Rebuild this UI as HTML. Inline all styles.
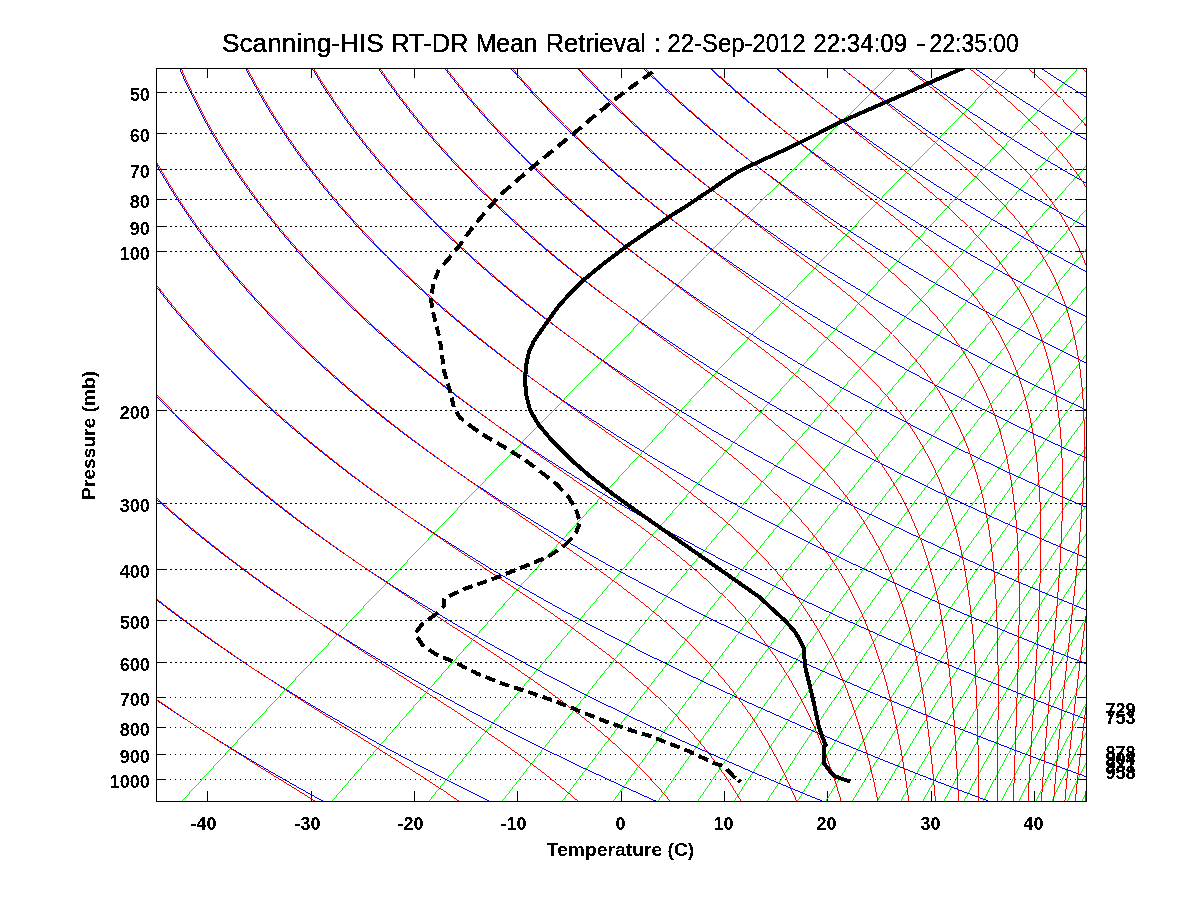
<!DOCTYPE html>
<html><head><meta charset="utf-8"><title>Skew-T</title>
<style>
html,body{margin:0;padding:0;background:#fff;}
body{width:1200px;height:900px;overflow:hidden;font-family:"Liberation Sans",sans-serif;}
svg{display:block}
text{font-family:"Liberation Sans",sans-serif;fill:#000}
.b{font-weight:bold;font-size:18px}
.thin{fill:none;stroke-width:1;shape-rendering:crispEdges}
.f{stroke:none;shape-rendering:crispEdges}
</style></head><body>
<svg width="1200" height="900" viewBox="0 0 1200 900">
<rect x="0" y="0" width="1200" height="900" fill="#fff"/>
<defs><clipPath id="c"><rect x="157" y="69" width="929" height="732"/></clipPath><filter id="t" x="0" y="0" width="1200" height="900" filterUnits="userSpaceOnUse" color-interpolation-filters="sRGB"><feComponentTransfer><feFuncA type="discrete" tableValues="0 1"/></feComponentTransfer></filter></defs>
<g class="thin" stroke="#000">
<rect x="156.5" y="68.5" width="930" height="733"/>
<path d="M207.5 801 v-10"/><path d="M207.5 69 v9"/>
<path d="M311.5 801 v-10"/><path d="M311.5 69 v9"/>
<path d="M414.5 801 v-10"/><path d="M414.5 69 v9"/>
<path d="M517.5 801 v-10"/><path d="M517.5 69 v9"/>
<path d="M621.5 801 v-10"/><path d="M621.5 69 v9"/>
<path d="M724.5 801 v-10"/><path d="M724.5 69 v9"/>
<path d="M827.5 801 v-10"/><path d="M827.5 69 v9"/>
<path d="M931.5 801 v-10"/><path d="M931.5 69 v9"/>
<path d="M1034.5 801 v-10"/><path d="M1034.5 69 v9"/>
<path d="M157 92.5 h9"/><path d="M1086 92.5 h-9"/>
<path d="M157 133.5 h9"/><path d="M1086 133.5 h-9"/>
<path d="M157 169.5 h9"/><path d="M1086 169.5 h-9"/>
<path d="M157 199.5 h9"/><path d="M1086 199.5 h-9"/>
<path d="M157 226.5 h9"/><path d="M1086 226.5 h-9"/>
<path d="M157 251.5 h9"/><path d="M1086 251.5 h-9"/>
<path d="M157 410.5 h9"/><path d="M1086 410.5 h-9"/>
<path d="M157 503.5 h9"/><path d="M1086 503.5 h-9"/>
<path d="M157 569.5 h9"/><path d="M1086 569.5 h-9"/>
<path d="M157 620.5 h9"/><path d="M1086 620.5 h-9"/>
<path d="M157 662.5 h9"/><path d="M1086 662.5 h-9"/>
<path d="M157 697.5 h9"/><path d="M1086 697.5 h-9"/>
<path d="M157 727.5 h9"/><path d="M1086 727.5 h-9"/>
<path d="M157 754.5 h9"/><path d="M1086 754.5 h-9"/>
<path d="M157 779.5 h9"/><path d="M1086 779.5 h-9"/>
</g>
<g clip-path="url(#c)">
<g class="f" fill="#0f0">
<path d="M902 62 802.2 160 705.7 256 705.7 257 802.2 161 902 63ZM705.2 256.5 633.5 328.5 564.5 398.5 496.1 468.5 428.5 538.5 363.5 606.5 299.2 674.5 237.5 740.5 176.5 806.5 177.5 806.5 238.5 740.5 300.2 674.5 364.5 606.5 429.5 538.5 497.1 468.5 565.5 398.5 634.5 328.5 706.2 256.5Z"/>
<path d="M1012.6 62.5 963.8 112.5 917.2 160.5 869 210.5 823.1 258.5 777.6 306.5 732.4 354.5 687.7 402.5 645.1 448.5 602.9 494.5 561 540.5 519.6 586.5 480.3 630.5 441.4 674.5 402.9 718.5 364.8 762.5 327 806.5 328 806.5 365.8 762.5 403.9 718.5 442.4 674.5 481.3 630.5 520.6 586.5 562 540.5 603.9 494.5 646.1 448.5 688.7 402.5 733.4 354.5 778.6 306.5 824.1 258.5 870 210.5 918.2 160.5 964.8 112.5 1013.6 62.5Z"/>
<path d="M1083.1 62.5 1035.7 112.5 990.5 160.5 943.9 210.5 899.5 258.5 855.5 306.5 812 354.5 768.8 402.5 727.9 448.5 687.3 494.5 647.2 540.5 607.5 586.5 569.9 630.5 532.8 674.5 496.1 718.5 459.9 762.5 424.1 806.5 425.1 806.5 460.9 762.5 497.1 718.5 533.8 674.5 570.9 630.5 608.5 586.5 648.2 540.5 688.3 494.5 728.9 448.5 769.8 402.5 813 354.5 856.5 306.5 900.5 258.5 944.9 210.5 991.5 160.5 1036.7 112.5 1084.1 62.5Z"/>
<path d="M1102.6 98.5 1058.5 146.5 1016.5 192.5 973.2 240.5 932 286.5 891.2 332.5 852.6 376.5 812.7 422.5 774.9 466.5 737.5 510.5 700.5 554.5 664 598.5 629.6 640.5 595.6 682.5 562 724.5 528.8 766.5 497.7 806.5 498.7 806.5 529.8 766.5 563 724.5 596.6 682.5 630.6 640.5 665 598.5 701.5 554.5 738.5 510.5 775.9 466.5 813.7 422.5 853.6 376.5 892.2 332.5 933 286.5 974.2 240.5 1017.5 192.5 1059.5 146.5 1103.6 98.5Z"/>
<path d="M1101.2 148.5 1061.9 192.5 1023 236.5 984.5 280.5 948.1 322.5 912 364.5 876.4 406.5 841.1 448.5 806.2 490.5 773.4 530.5 740.9 570.5 708.9 610.5 677.2 650.5 645.9 690.5 616.7 728.5 586.2 768.5 557.8 806.5 558.8 806.5 587.2 768.5 617.7 728.5 646.9 690.5 678.2 650.5 709.9 610.5 741.9 570.5 774.4 530.5 807.2 490.5 842.1 448.5 877.4 406.5 913 364.5 949.1 322.5 985.5 280.5 1024 236.5 1062.9 192.5 1102.2 148.5Z"/>
<path d="M1102.1 190.5 1065.6 232.5 1031.3 272.5 997.3 312.5 963.6 352.5 930.3 392.5 899 430.5 866.4 470.5 835.8 508.5 805.5 546.5 775.6 584.5 746.1 622.5 717 660.5 688.3 698.5 661.5 734.5 635 770.5 608.9 806.5 609.9 806.5 636 770.5 662.5 734.5 689.3 698.5 718 660.5 747.1 622.5 776.6 584.5 806.5 546.5 836.8 508.5 867.4 470.5 900 430.5 931.3 392.5 964.6 352.5 998.3 312.5 1032.3 272.5 1066.6 232.5 1103.1 190.5Z"/>
<path d="M1101.5 230.5 1069.4 268.5 1037.6 306.5 1006.2 344.5 975.1 382.5 944.3 420.5 915.5 456.5 887 492.5 858.9 528.5 831.1 564.5 803.6 600.5 776.5 636.5 751.3 670.5 726.4 704.5 701.8 738.5 677.6 772.5 653.7 806.5 654.7 806.5 678.6 772.5 702.8 738.5 727.4 704.5 752.3 670.5 777.5 636.5 804.6 600.5 832.1 564.5 859.9 528.5 888 492.5 916.5 456.5 945.3 420.5 976.1 382.5 1007.2 344.5 1038.6 306.5 1070.4 268.5 1102.5 230.5Z"/>
<path d="M1101.9 266.5 1043 338.5 986.9 408.5 933.6 476.5 907.5 510.5 881.6 544.5 856.1 578.5 830.8 612.5 806 646.5 782.9 678.5 760.1 710.5 737.6 742.5 715.5 774.5 693.7 806.5 694.7 806.5 716.5 774.5 738.6 742.5 761.1 710.5 783.9 678.5 807 646.5 831.8 612.5 857.1 578.5 882.6 544.5 908.5 510.5 934.6 476.5 987.9 408.5 1044 338.5 1102.9 266.5Z"/>
<path d="M1102.2 300.5 1049.6 366.5 998 432.5 949.2 496.5 901.5 560.5 856.5 622.5 833.7 654.5 812.6 684.5 790.4 716.5 769.9 746.5 749.8 776.5 729.9 806.5 730.9 806.5 750.8 776.5 770.9 746.5 791.4 716.5 813.6 684.5 834.7 654.5 857.5 622.5 902.5 560.5 950.2 496.5 999 432.5 1050.6 366.5 1103.2 300.5Z"/>
<path d="M1101.2 334.5 1053 396.5 1007.4 456.5 962.8 516.5 919.2 576.5 878.2 634.5 838.2 692.5 799.4 750.5 763 806.5 764 806.5 800.4 750.5 839.2 692.5 879.2 634.5 920.2 576.5 963.8 516.5 1008.4 456.5 1054 396.5 1102.2 334.5Z"/>
<path d="M1102.2 364.5 1058.3 422.5 1015.3 480.5 974.8 536.5 935.2 592.5 898 646.5 861.7 700.5 826.5 754.5 793.6 806.5 794.6 806.5 827.5 754.5 862.7 700.5 899 646.5 936.2 592.5 975.8 536.5 1016.3 480.5 1059.3 422.5 1103.2 364.5Z"/>
<path d="M1102.4 394.5 1062.6 448.5 1023.6 502.5 986.9 554.5 951 606.5 916.1 658.5 883.4 708.5 851.6 758.5 822 806.5 823 806.5 852.6 758.5 884.4 708.5 917.1 658.5 952 606.5 987.9 554.5 1024.6 502.5 1063.6 448.5 1103.4 394.5Z"/>
<path d="M1102 424.5 1066.1 474.5 1030.9 524.5 997.9 572.5 965.6 620.5 934.2 668.5 904.9 714.5 876.3 760.5 848.6 806.5 849.6 806.5 877.3 760.5 905.9 714.5 935.2 668.5 966.6 620.5 998.9 572.5 1031.9 524.5 1067.1 474.5 1103 424.5Z"/>
<path d="M1101.1 454.5 1068.9 500.5 1037.4 546.5 1008 590.5 979.2 634.5 951.1 678.5 924.9 720.5 898.3 764.5 873.5 806.5 874.5 806.5 899.3 764.5 925.9 720.5 952.1 678.5 980.2 634.5 1009 590.5 1038.4 546.5 1069.9 500.5 1102.1 454.5Z"/>
<path d="M1101.3 482.5 1072.7 524.5 1044.7 566.5 1017.3 608.5 991.8 648.5 966.9 688.5 942.6 728.5 918.9 768.5 897.1 806.5 898.1 806.5 919.9 768.5 943.6 728.5 967.9 688.5 992.8 648.5 1018.3 608.5 1045.7 566.5 1073.7 524.5 1102.3 482.5Z"/>
<path d="M1101.2 510.5 1076 548.5 1051.3 586.5 1027.2 624.5 1004.8 660.5 981.7 698.5 960.4 734.5 939.6 770.5 919.3 806.5 920.3 806.5 940.6 770.5 961.4 734.5 982.7 698.5 1005.8 660.5 1028.2 624.5 1052.3 586.5 1077 548.5 1102.2 510.5Z"/>
<path d="M1102.2 536.5 1079 572.5 1057.5 606.5 1036.5 640.5 1015.9 674.5 995.8 708.5 977.3 740.5 958.1 774.5 940.5 806.5 941.5 806.5 959.1 774.5 978.3 740.5 996.8 708.5 1016.9 674.5 1037.5 640.5 1058.5 606.5 1080 572.5 1103.2 536.5Z"/>
<path d="M1101.7 564.5 1081.7 596.5 1063.3 626.5 1045.3 656.5 1027.6 686.5 1010.3 716.5 993.3 746.5 976.8 776.5 960.6 806.5 961.6 806.5 977.8 776.5 994.3 746.5 1011.3 716.5 1028.6 686.5 1046.3 656.5 1064.3 626.5 1082.7 596.5 1102.7 564.5Z"/>
<path d="M1101.3 592.5 1084.3 620.5 1068.8 646.5 1052.4 674.5 1037.5 700.5 1021.8 728.5 1007.5 754.5 993.5 780.5 979.8 806.5 980.8 806.5 994.5 780.5 1008.5 754.5 1022.8 728.5 1038.5 700.5 1053.4 674.5 1069.8 646.5 1085.3 620.5 1102.3 592.5Z"/>
<path d="M1102 618.5 1074 666.5 1047 714.5 1022.1 760.5 998.1 806.5 999.1 806.5 1023.1 760.5 1048 714.5 1075 666.5 1103 618.5Z"/>
<path d="M1101.6 646.5 1079.1 686.5 1057.2 726.5 1036.1 766.5 1015.7 806.5 1016.7 806.5 1037.1 766.5 1058.2 726.5 1080.1 686.5 1102.6 646.5Z"/>
<path d="M1101.4 674.5 1082.9 708.5 1065.9 740.5 1048.5 774.5 1032.5 806.5 1033.5 806.5 1049.5 774.5 1066.9 740.5 1083.9 708.5 1102.4 674.5Z"/>
<path d="M1101.3 702.5 1087.7 728.5 1074.4 754.5 1061.3 780.5 1048.7 806.5 1049.7 806.5 1062.3 780.5 1075.4 754.5 1088.7 728.5 1102.3 702.5Z"/>
<path d="M1101.5 730.5 1082.5 768.5 1064.2 806.5 1065.2 806.5 1083.5 768.5 1102.5 730.5Z"/>
<path d="M1101 760.5 1079.1 806.5 1080.1 806.5 1102 760.5Z"/>
<path d="M1101.8 788.5 1093.5 806.5 1094.5 806.5 1102.8 788.5Z"/>
</g>
<g class="f" fill="#00f">
<path d="M140 688 163.1 704 184.2 718 209 734 231.6 748 258.2 764 282.4 778 307.2 792 332.9 806 332.9 807 307.2 793 282.4 779 258.2 765 231.6 749 209 735 184.2 719 163.1 705 140 689Z"/>
<path d="M139.5 586 157.3 600 175.7 614 194.8 628 214.6 642 235.1 656 256.2 670 278.1 684 300.6 698 323.9 712 348 726 372.8 740 394.7 752 421 766 448 780 475.9 794 500.5 806 500.5 807 475.9 795 448 781 421 767 394.7 753 372.8 741 348 727 323.9 713 300.6 699 278.1 685 256.2 671 235.1 657 214.6 643 194.8 629 175.7 615 157.3 601 139.5 587Z"/>
<path d="M140.2 484 153.4 496 164.7 506 188.2 526 202.9 538 215.6 548 241.8 568 258.2 580 272.2 590 301.4 610 331.9 630 363.9 650 397.4 670 432.5 690 469.1 710 507.3 730 547.2 750 584.5 768 627.7 788 668 806 668 807 627.7 789 584.5 769 547.2 751 507.3 731 469.1 711 432.5 691 397.4 671 363.9 651 331.9 631 301.4 611 272.2 591 258.2 581 241.8 569 215.6 549 202.9 539 188.2 527 164.7 507 153.4 497 140.2 485Z"/>
<path d="M139.7 378.5 156.4 396.5 173.9 414.5 174.9 414.5 157.4 396.5 140.7 378.5ZM174.4 414 188.8 428 201.5 440 216.9 454 230.6 466 247.2 480 261.9 492 279.6 506 295.3 518 314.3 532 331 544 348.3 556 366.1 568 387.4 582 406.3 594 425.8 606 445.7 618 466.2 630 487.3 642 508.9 654 531.1 666 553.9 678 577.3 690 601.3 702 625.9 714 651.1 726 676.9 738 725.9 760 753.5 772 781.9 784 835.5 806 835.5 807 781.9 785 753.5 773 725.9 761 676.9 739 651.1 727 625.9 715 601.3 703 577.3 691 553.9 679 531.1 667 508.9 655 487.3 643 466.2 631 445.7 619 425.8 607 406.3 595 387.4 583 366.1 569 348.3 557 331 545 314.3 533 295.3 519 279.6 507 261.9 493 247.2 481 230.6 467 216.9 455 201.5 441 188.8 429 174.4 415Z"/>
<path d="M140.9 266.5 151.1 280.5 160.3 292.5 171.5 306.5 181.5 318.5 193.7 332.5 204.5 344.5 217.7 358.5 229.5 370.5 230.5 370.5 218.7 358.5 205.5 344.5 194.7 332.5 182.5 318.5 172.5 306.5 161.3 292.5 152.1 280.5 141.9 266.5ZM230 370 246.4 386 261.3 400 276.8 414 293 428 312.2 444 329.7 458 347.8 472 366.6 486 386 500 406.1 514 426.9 528 448.4 542 470.7 556 493.6 570 517.3 584 541.8 598 567 612 593 626 619.8 640 643.4 652 671.7 666 696.6 678 726.4 692 752.7 704 784.2 718 811.9 730 845 744 874.2 756 909 770 939.7 782 971 794 1003.1 806 1003.1 807 971 795 939.7 783 909 771 874.2 757 845 745 811.9 731 784.2 719 752.7 705 726.4 693 696.6 679 671.7 667 643.4 653 619.8 641 593 627 567 613 541.8 599 517.3 585 493.6 571 470.7 557 448.4 543 426.9 529 406.1 515 386 501 366.6 487 347.8 473 329.7 459 312.2 445 293 429 276.8 415 261.3 401 246.4 387 230 371Z"/>
<path d="M140.2 134.5 147.3 148.5 153.7 160.5 160.5 172.5 167.6 184.5 176.3 198.5 184.2 210.5 192.5 222.5 201.1 234.5 210.1 246.5 219.5 258.5 229.2 270.5 239.4 282.5 249.9 294.5 260.9 306.5 272.2 318.5 284 330.5 285 330.5 273.2 318.5 261.9 306.5 250.9 294.5 240.4 282.5 230.2 270.5 220.5 258.5 211.1 246.5 202.1 234.5 193.5 222.5 185.2 210.5 177.3 198.5 168.6 184.5 161.5 172.5 154.7 160.5 148.3 148.5 141.2 134.5ZM284.5 330 300.9 346 315.8 360 333.7 376 349.9 390 369.2 406 386.8 420 407.7 436 426.7 450 449.2 466 469.7 480 490.8 494 512.6 508 538.5 524 561.9 538 586 552 610.9 566 636.6 580 663.1 594 690.3 608 718.4 622 747.3 636 777.1 650 807.7 664 834.7 676 866.9 690 900.1 704 934.2 718 964.2 730 1000 744 1031.5 756 1069.2 770 1102.2 782 1102.2 783 1069.2 771 1031.5 757 1000 745 964.2 731 934.2 719 900.1 705 866.9 691 834.7 677 807.7 665 777.1 651 747.3 637 718.4 623 690.3 609 663.1 595 636.6 581 610.9 567 586 553 561.9 539 538.5 525 512.6 509 490.8 495 469.7 481 449.2 467 426.7 451 407.7 437 386.8 421 369.2 407 349.9 391 333.7 377 315.8 361 300.9 347 284.5 331Z"/>
<path d="M176.6 62.5 183.5 78.5 190 92.5 198 108.5 205.4 122.5 214.6 138.5 223.1 152.5 232 166.5 241.5 180.5 251.5 194.5 261.9 208.5 272.9 222.5 284.4 236.5 296.5 250.5 309.1 264.5 322.2 278.5 336 292.5 337 292.5 323.2 278.5 310.1 264.5 297.5 250.5 285.4 236.5 273.9 222.5 262.9 208.5 252.5 194.5 242.5 180.5 233 166.5 224.1 152.5 215.6 138.5 206.4 122.5 199 108.5 191 92.5 184.5 78.5 177.6 62.5ZM336.5 292 352.9 308 367.8 322 383.4 336 399.6 350 418.8 366 436.4 380 454.5 394 473.3 408 492.8 422 513 436 533.8 450 555.4 464 577.7 478 600.7 492 624.4 506 645.3 518 670.5 532 696.4 546 723.2 560 746.7 572 774.9 586 799.8 598 829.6 612 855.8 624 887.2 638 914.8 650 947.9 664 977 676 1011.8 690 1042.3 702 1073.6 714 1105.6 726 1105.6 727 1073.6 715 1042.3 703 1011.8 691 977 677 947.9 665 914.8 651 887.2 639 855.8 625 829.6 613 799.8 599 774.9 587 746.7 573 723.2 561 696.4 547 670.5 533 645.3 519 624.4 507 600.7 493 577.7 479 555.4 465 533.8 451 513 437 492.8 423 473.3 409 454.5 395 436.4 381 418.8 367 399.6 351 383.4 337 367.8 323 352.9 309 336.5 293Z"/>
<path d="M242.4 62.5 249.5 76.5 256.1 88.5 262.9 100.5 270.1 112.5 277.7 124.5 285.6 136.5 293.9 148.5 302.5 160.5 311.6 172.5 321 184.5 330.8 196.5 341 208.5 351.6 220.5 362.5 232.5 374 244.5 385.8 256.5 386.8 256.5 375 244.5 363.5 232.5 352.6 220.5 342 208.5 331.8 196.5 322 184.5 312.6 172.5 303.5 160.5 294.9 148.5 286.6 136.5 278.7 124.5 271.1 112.5 263.9 100.5 257.1 88.5 250.5 76.5 243.4 62.5ZM386.3 256 400.6 270 415.5 284 431 298 447.2 312 463.9 326 481.3 340 499.3 354 515.2 366 534.5 380 554.4 394 575 408 593.2 420 615.1 434 634.4 446 657.6 460 678.2 472 702.8 486 724.5 498 750.6 512 773.6 524 801.2 538 825.4 550 850.3 562 875.9 574 902 586 928.8 598 956.3 610 984.4 622 1013.1 634 1042.6 646 1072.7 658 1103.6 670 1103.6 671 1072.7 659 1042.6 647 1013.1 635 984.4 623 956.3 611 928.8 599 902 587 875.9 575 850.3 563 825.4 551 801.2 539 773.6 525 750.6 513 724.5 499 702.8 487 678.2 473 657.6 461 634.4 447 615.1 435 593.2 421 575 409 554.4 395 534.5 381 515.2 367 499.3 355 481.3 341 463.9 327 447.2 313 431 299 415.5 285 400.6 271 386.3 257Z"/>
<path d="M308.2 62.5 320.2 82.5 333.3 102.5 347.3 122.5 362.4 142.5 378.6 162.5 395.9 182.5 414.3 202.5 431.8 220.5 432.8 220.5 415.3 202.5 396.9 182.5 379.6 162.5 363.4 142.5 348.3 122.5 334.3 102.5 321.2 82.5 309.2 62.5ZM432.3 220 446.6 234 461.5 248 476.9 262 490.7 274 507.3 288 522 300 539.8 314 555.6 326 574.6 340 591.4 352 608.7 364 626.5 376 648 390 666.9 402 686.4 414 706.4 426 727 438 748.1 450 769.8 462 792 474 814.9 486 838.3 498 862.3 510 887 522 912.3 534 938.1 546 964.7 558 991.8 570 1019.7 582 1048.2 594 1102.2 616 1102.2 617 1048.2 595 1019.7 583 991.8 571 964.7 559 938.1 547 912.3 535 887 523 862.3 511 838.3 499 814.9 487 792 475 769.8 463 748.1 451 727 439 706.4 427 686.4 415 666.9 403 648 391 626.5 377 608.7 365 591.4 353 574.6 341 555.6 327 539.8 315 522 301 507.3 289 490.7 275 476.9 263 461.5 249 446.6 235 432.3 221Z"/>
<path d="M374 62.5 384.9 78.5 396.4 94.5 408.7 110.5 419.9 124.5 433.5 140.5 447.7 156.5 462.7 172.5 476.4 186.5 477.4 186.5 463.7 172.5 448.7 156.5 434.5 140.5 420.9 124.5 409.7 110.5 397.4 94.5 385.9 78.5 375 62.5ZM476.9 186 491.1 200 503.8 212 517 224 530.5 236 547 250 561.5 262 576.6 274 592.1 286 608 298 624.5 310 641.5 322 658.9 334 676.9 346 695.4 358 714.4 370 734 382 754.1 394 774.7 406 814 428 836.2 440 859.1 452 902.4 474 927 486 952.1 498 999.8 520 1049.7 542 1101.8 564 1101.8 565 1049.7 543 999.8 521 952.1 499 927 487 902.4 475 859.1 453 836.2 441 814 429 774.7 407 754.1 395 734 383 714.4 371 695.4 359 676.9 347 658.9 335 641.5 323 624.5 311 608 299 592.1 287 576.6 275 561.5 263 547 251 530.5 237 517 225 503.8 213 491.1 201 476.9 187Z"/>
<path d="M439.7 62.5 448.9 74.5 458.4 86.5 468.3 98.5 476.8 108.5 487.4 120.5 498.4 132.5 509.9 144.5 519.7 154.5 520.7 154.5 510.9 144.5 499.4 132.5 488.4 120.5 477.8 108.5 469.3 98.5 459.4 86.5 449.9 74.5 440.7 62.5ZM520.2 154 532.4 166 545.1 178 558.1 190 571.7 202 585.6 214 600 226 614.9 238 627.7 248 643.4 260 659.7 272 690.7 294 708.4 306 726.5 318 761.2 340 797.6 362 835.9 384 876.1 406 918.2 428 962.3 450 1008.5 472 1056.9 494 1102.7 514 1102.7 515 1056.9 495 1008.5 473 962.3 451 918.2 429 876.1 407 835.9 385 797.6 363 761.2 341 726.5 319 708.4 307 690.7 295 659.7 273 643.4 261 627.7 249 614.9 239 600 227 585.6 215 571.7 203 558.1 191 545.1 179 532.4 167 520.2 155Z"/>
<path d="M505.5 62.5 519.1 78.5 533.4 94.5 548.4 110.5 562.2 124.5 563.2 124.5 549.4 110.5 534.4 94.5 520.1 78.5 506.5 62.5ZM562.7 124 574.9 136 587.6 148 600.7 160 612 170 625.9 182 637.8 192 652.6 204 665.3 214 680.9 226 694.3 236 710.8 248 724.9 258 757.3 280 791.4 302 827.2 324 861.4 344 900.8 366 938.3 386 977.4 406 1018.2 426 1060.7 446 1105 466 1105 467 1060.7 447 1018.2 427 977.4 407 938.3 387 900.8 367 861.4 345 827.2 325 791.4 303 757.3 281 724.9 259 710.8 249 694.3 237 680.9 227 665.3 215 652.6 205 637.8 193 625.9 183 612 171 600.7 161 587.6 149 574.9 137 562.7 125Z"/>
<path d="M571.3 62.5 586.2 78.5 601.9 94.5 602.9 94.5 587.2 78.5 572.3 62.5ZM602.4 94 614.6 106 625.2 116 638.2 128 649.4 138 663.2 150 675.1 160 699.8 180 715.3 192 728.6 202 756.1 222 785 242 815.3 262 847.1 282 880.3 302 915.1 322 951.5 342 989.4 362 1025 380 1066.1 400 1104.6 418 1104.6 419 1066.1 401 1025 381 989.4 363 951.5 343 915.1 323 880.3 303 847.1 283 815.3 263 785 243 756.1 223 728.6 203 715.3 193 699.8 181 675.1 161 663.2 151 649.4 139 638.2 129 625.2 117 614.6 107 602.4 95Z"/>
<path d="M637.1 62.5 639.1 64.5 640.1 64.5 638.1 62.5ZM639.6 64 660.2 84 681.9 104 704.9 124 729.2 144 754.7 164 781.6 184 809.9 204 836.5 222 867.5 242 896.6 260 930.3 280 962 298 995 316 1029.3 334 1064.9 352 1101.9 370 1101.9 371 1064.9 353 1029.3 335 995 317 962 299 930.3 281 896.6 261 867.5 243 836.5 223 809.9 205 781.6 185 754.7 165 729.2 145 704.9 125 681.9 105 660.2 85 639.6 65Z"/>
<path d="M703.4 62 723.3 80 741.7 96 763.5 114 783.7 130 807.5 148 829.5 164 852.5 180 876.3 196 901 212 926.7 228 953.3 244 980.9 260 1009.6 276 1039.2 292 1069.8 308 1101.6 324 1101.6 325 1069.8 309 1039.2 293 1009.6 277 980.9 261 953.3 245 926.7 229 901 213 876.3 197 852.5 181 829.5 165 807.5 149 783.7 131 763.5 115 741.7 97 723.3 81 703.4 63Z"/>
<path d="M769.2 62 785.7 76 802.9 90 820.6 104 839.1 118 858.2 132 877.9 146 898.4 160 919.5 174 941.3 188 963.9 202 987.2 216 1007.7 228 1032.4 242 1054.2 254 1080.4 268 1103.4 280 1103.4 281 1080.4 269 1054.2 255 1032.4 243 1007.7 229 987.2 217 963.9 203 941.3 189 919.5 175 898.4 161 877.9 147 858.2 133 839.1 119 820.6 105 802.9 91 785.7 77 769.2 63Z"/>
<path d="M835 62 850.1 74 863.1 84 879.1 96 892.8 106 924.1 128 957.2 150 992 172 1028.6 194 1067 216 1103.6 236 1103.6 237 1067 217 1028.6 195 992 173 957.2 151 924.1 129 892.8 107 879.1 97 863.1 85 850.1 75 835 63Z"/>
<path d="M900.8 62 925.2 80 947.7 96 971.2 112 995.6 128 1020.9 144 1047.2 160 1074.4 176 1102.6 192 1102.6 193 1074.4 177 1047.2 161 1020.9 145 995.6 129 971.2 113 947.7 97 925.2 81 900.8 63Z"/>
<path d="M966.6 62 998.4 84 1031.8 106 1067.1 128 1104.1 150 1104.1 151 1067.1 129 1031.8 107 998.4 85 966.6 63Z"/>
<path d="M1032.4 62 1050.5 74 1069.1 86 1104.7 108 1104.7 109 1069.1 87 1050.5 75 1032.4 63Z"/>
<path d="M1098.2 62 1104.5 66 1104.5 67 1098.2 63Z"/>
</g>
<g class="f" fill="#f00">
<path d="M141 688 158.1 700 178.6 714 196.6 726 218 740 262.3 768 323.9 806 323.9 807 262.3 769 218 741 196.6 727 178.6 715 158.1 701 141 689Z"/>
<path d="M140.9 586 166.4 606 193.1 626 221.1 646 250.2 666 277.3 684 305.1 702 390.6 756 418.8 774 443.3 790 467 806 467 807 443.3 791 418.8 775 390.6 757 305.1 703 277.3 685 250.2 667 221.1 647 193.1 627 166.4 607 140.9 587Z"/>
<path d="M139.6 482 154.8 496 168.4 508 182.4 520 196.9 532 211.8 544 227.1 556 242.9 568 259.2 580 292.9 604 331.1 630 367.7 654 454.4 710 478.5 726 499 740 524.3 758 545.5 774 565.5 790 584.1 806 584.1 807 565.5 791 545.5 775 524.3 759 499 741 478.5 727 454.4 711 367.7 655 331.1 631 292.9 605 259.2 581 242.9 569 227.1 557 211.8 545 196.9 533 182.4 521 168.4 509 154.8 497 139.6 483Z"/>
<path d="M139.4 376.5 157.9 396.5 175.4 414.5 176.4 414.5 158.9 396.5 140.4 376.5ZM175.9 414 190.2 428 203 440 218.4 454 232.1 466 248.6 480 263.2 492 278.3 504 296.4 518 312.4 530 331.6 544 348.5 556 368.7 570 407.3 596 501.2 658 527.6 676 550.1 692 563.6 702 576.7 712 589.3 722 599 730 610.7 740 619.6 748 628.2 756 638.5 766 638.5 767 628.2 757 619.6 749 610.7 741 599 731 589.3 723 576.7 713 563.6 703 550.1 693 527.6 677 501.2 659 407.3 597 368.7 571 348.5 557 331.6 545 312.4 531 296.4 519 278.3 505 263.2 493 248.6 481 232.1 467 218.4 455 203 441 190.2 429 175.9 415ZM638 766.5 647.8 776.5 657 786.5 665.8 796.5 674.2 806.5 675.2 806.5 666.8 796.5 658 786.5 648.8 776.5 639 766.5Z"/>
<path d="M141 264.5 151.1 278.5 161.8 292.5 173 306.5 183 318.5 195.2 332.5 206 344.5 219.2 358.5 231 370.5 232 370.5 220.2 358.5 207 344.5 196.2 332.5 184 318.5 174 306.5 162.8 292.5 152.1 278.5 142 264.5ZM231.5 370 245.8 384 258.4 396 271.5 408 285.1 420 299.1 432 313.5 444 328.4 456 346.2 470 362 482 378.2 494 394.8 506 414.7 520 452.5 546 538.8 604 561.9 620 584.1 636 607.9 654 620.5 664 630.1 672 641.7 682 650.6 690 659.2 698 667.4 706 667.4 707 659.2 699 650.6 691 641.7 683 630.1 673 620.5 665 607.9 655 584.1 637 561.9 621 538.8 605 452.5 547 414.7 521 394.8 507 378.2 495 362 483 346.2 471 328.4 457 313.5 445 299.1 433 285.1 421 271.5 409 258.4 397 245.8 385 231.5 371ZM666.9 706.5 678.5 718.5 689.4 730.5 699.6 742.5 709.1 754.5 718 766.5 727.7 780.5 735.4 792.5 743.7 806.5 744.7 806.5 736.4 792.5 728.7 780.5 719 766.5 710.1 754.5 700.6 742.5 690.4 730.5 679.5 718.5 667.9 706.5Z"/>
<path d="M140.7 132.5 147.7 146.5 154.1 158.5 162 172.5 169.1 184.5 177.8 198.5 185.7 210.5 194 222.5 202.6 234.5 211.6 246.5 221 258.5 230.7 270.5 240.9 282.5 251.4 294.5 262.4 306.5 273.7 318.5 285.5 330.5 286.5 330.5 274.7 318.5 263.4 306.5 252.4 294.5 241.9 282.5 231.7 270.5 222 258.5 212.6 246.5 203.6 234.5 195 222.5 186.7 210.5 178.8 198.5 170.1 184.5 163 172.5 155.1 158.5 148.7 146.5 141.7 132.5ZM286 330 298.2 342 310.8 354 323.9 366 337.4 378 351.3 390 365.6 402 380.4 414 395.6 426 411.3 438 427.3 450 460.5 474 494.9 498 576.7 554 599.4 570 618.6 584 642.1 602 661.6 618 679.8 634 688.3 642 696.5 650 696.5 651 688.3 643 679.8 635 661.6 619 642.1 603 618.6 585 599.4 571 576.7 555 494.9 499 460.5 475 427.3 451 411.3 439 395.6 427 380.4 415 365.6 403 351.3 391 337.4 379 323.9 367 310.8 355 298.2 343 286 331ZM696 650.5 703.9 658.5 711.4 666.5 718.5 674.5 727 684.5 733.4 692.5 741 702.5 748.2 712.5 754.9 722.5 761.3 732.5 767.2 742.5 772.9 752.5 778.2 762.5 783.2 772.5 788.8 784.5 793.3 794.5 798.3 806.5 799.3 806.5 794.3 794.5 789.8 784.5 784.2 772.5 779.2 762.5 773.9 752.5 768.2 742.5 762.3 732.5 755.9 722.5 749.2 712.5 742 702.5 734.4 692.5 728 684.5 719.5 674.5 712.4 666.5 704.9 658.5 697 650.5Z"/>
<path d="M178.1 62.5 185 78.5 191.5 92.5 199.5 108.5 206.9 122.5 216.1 138.5 224.6 152.5 233.5 166.5 243 180.5 253 194.5 263.4 208.5 274.4 222.5 285.9 236.5 298 250.5 310.6 264.5 323.7 278.5 337.5 292.5 338.5 292.5 324.7 278.5 311.6 264.5 299 250.5 286.9 236.5 275.4 222.5 264.4 208.5 254 194.5 244 180.5 234.5 166.5 225.6 152.5 217.1 138.5 207.9 122.5 200.5 108.5 192.5 92.5 186 78.5 179.1 62.5ZM338 292 350.2 304 362.8 316 375.9 328 387.1 338 412.8 360 440 382 468.5 404 501.2 428 535 452 612.6 506 634.9 522 653.8 536 674.4 552 693.7 568 711.7 584 726.2 598 726.2 599 711.7 585 693.7 569 674.4 553 653.8 537 634.9 523 612.6 507 535 453 501.2 429 468.5 405 440 383 412.8 361 387.1 339 375.9 329 362.8 317 350.2 305 338 293ZM725.7 598.5 735.5 608.5 746.4 620.5 754.8 630.5 764.4 642.5 773.2 654.5 781.3 666.5 788.8 678.5 795.8 690.5 802.2 702.5 809.1 716.5 815.5 730.5 821.3 744.5 826.7 758.5 832.3 774.5 837.5 790.5 842.3 806.5 843.3 806.5 838.5 790.5 833.3 774.5 827.7 758.5 822.3 744.5 816.5 730.5 810.1 716.5 803.2 702.5 796.8 690.5 789.8 678.5 782.3 666.5 774.2 654.5 765.4 642.5 755.8 630.5 747.4 620.5 736.5 608.5 726.7 598.5Z"/>
<path d="M243.9 62.5 251 76.5 257.6 88.5 264.4 100.5 271.6 112.5 279.2 124.5 287.1 136.5 295.4 148.5 304 160.5 313.1 172.5 322.5 184.5 332.3 196.5 342.5 208.5 353 220.5 364 232.5 375.4 244.5 387.3 256.5 388.3 256.5 376.4 244.5 365 232.5 354 220.5 343.5 208.5 333.3 196.5 323.5 184.5 314.1 172.5 305 160.5 296.4 148.5 288.1 136.5 280.2 124.5 272.6 112.5 265.4 100.5 258.6 88.5 252 76.5 244.9 62.5ZM387.8 256 400 268 410.5 278 432.4 298 457.9 320 484.9 342 513.1 364 542.7 386 573.2 408 646.8 460 666.1 474 684.8 488 705.3 504 722.2 518 740.2 534 754.8 548 754.8 549 740.2 535 722.2 519 705.3 505 684.8 489 666.1 475 646.8 461 573.2 409 542.7 387 513.1 365 484.9 343 457.9 321 432.4 299 410.5 279 400 269 387.8 257ZM754.3 548.5 765.8 560.5 778.3 574.5 788.1 586.5 798.6 600.5 808.2 614.5 816.9 628.5 824.7 642.5 831.8 656.5 839.2 672.5 845.8 688.5 851.7 704.5 857.7 722.5 863.6 742.5 868.8 762.5 874 784.5 878.6 806.5 879.6 806.5 875 784.5 869.8 762.5 864.6 742.5 858.7 722.5 852.7 704.5 846.8 688.5 840.2 672.5 832.8 656.5 825.7 642.5 817.9 628.5 809.2 614.5 799.6 600.5 789.1 586.5 779.3 574.5 766.8 560.5 755.3 548.5Z"/>
<path d="M309.7 62.5 321.7 82.5 334.8 102.5 348.8 122.5 363.9 142.5 380.1 162.5 397.4 182.5 415.8 202.5 433.3 220.5 434.3 220.5 416.8 202.5 398.4 182.5 381.1 162.5 364.9 142.5 349.8 122.5 335.8 102.5 322.7 82.5 310.7 62.5ZM433.8 220 446 232 456.5 242 478.3 262 501.4 282 528.1 304 553.5 324 582.7 346 612.8 368 682.4 418 701.4 432 717.3 444 735 458 751.8 472 767.6 486 782.3 500 782.3 501 767.6 487 751.8 473 735 459 717.3 445 701.4 433 682.4 419 612.8 369 582.7 347 553.5 325 528.1 305 501.4 283 478.3 263 456.5 243 446 233 433.8 221ZM781.8 500.5 795.3 514.5 807.6 528.5 818.8 542.5 824.8 550.5 830.4 558.5 835.7 566.5 840.7 574.5 849.8 590.5 857.9 606.5 861.6 614.5 865.9 624.5 873 642.5 879.1 660.5 885.1 680.5 890.7 702.5 896.1 726.5 900.6 750.5 904.9 776.5 909.2 806.5 910.2 806.5 905.9 776.5 901.6 750.5 897.1 726.5 891.7 702.5 886.1 680.5 880.1 660.5 874 642.5 866.9 624.5 862.6 614.5 858.9 606.5 850.8 590.5 841.7 574.5 836.7 566.5 831.4 558.5 825.8 550.5 819.8 542.5 808.6 528.5 796.3 514.5 782.8 500.5Z"/>
<path d="M375.5 62.5 386.4 78.5 397.9 94.5 410.2 110.5 421.4 124.5 435 140.5 449.2 156.5 464.1 172.5 477.8 186.5 478.8 186.5 465.1 172.5 450.2 156.5 436 140.5 422.4 124.5 411.2 110.5 398.9 94.5 387.4 78.5 376.5 62.5ZM478.3 186 498.9 206 520.6 226 543.5 246 567.5 266 592.7 286 621.5 308 648.5 328 714.4 376 733.2 390 748.8 402 766.4 416 783 430 798.6 444 811 456 811 457 798.6 445 783 431 766.4 417 748.8 403 733.2 391 714.4 377 648.5 329 621.5 309 592.7 287 567.5 267 543.5 247 520.6 227 498.9 207 478.3 187ZM810.5 456.5 818.3 464.5 825.7 472.5 832.8 480.5 839.5 488.5 845.8 496.5 851.7 504.5 857.3 512.5 862.6 520.5 867.5 528.5 872.2 536.5 876.5 544.5 881.6 554.5 885.4 562.5 889.8 572.5 893.9 582.5 897.6 592.5 901 602.5 904.2 612.5 907.2 622.5 910.4 634.5 913.3 646.5 916 658.5 920.6 682.5 924.8 708.5 928.5 736.5 932 768.5 935.5 806.5 936.5 806.5 933 768.5 929.5 736.5 925.8 708.5 921.6 682.5 917 658.5 914.3 646.5 911.4 634.5 908.2 622.5 905.2 612.5 902 602.5 898.6 592.5 894.9 582.5 890.8 572.5 886.4 562.5 882.6 554.5 877.5 544.5 873.2 536.5 868.5 528.5 863.6 520.5 858.3 512.5 852.7 504.5 846.8 496.5 840.5 488.5 833.8 480.5 826.7 472.5 819.3 464.5 811.5 456.5Z"/>
<path d="M441.2 62.5 450.4 74.5 459.9 86.5 469.8 98.5 478.3 108.5 488.9 120.5 499.9 132.5 511.4 144.5 521.2 154.5 522.2 154.5 512.4 144.5 500.9 132.5 489.9 120.5 479.3 108.5 470.8 98.5 460.9 86.5 451.4 74.5 442.2 62.5ZM521.7 154 542.2 174 561.7 192 584.5 212 608.4 232 633.4 252 659.4 272 686.1 292 748.4 338 764.3 350 779.7 362 797.1 376 811.2 388 826.7 402 839.1 414 839.1 415 826.7 403 811.2 389 797.1 377 779.7 363 764.3 351 748.4 339 686.1 293 659.4 273 633.4 253 608.4 233 584.5 213 561.7 193 542.2 175 521.7 155ZM838.6 414.5 846.4 422.5 853.8 430.5 860.8 438.5 869 448.5 875.1 456.5 880.9 464.5 886.4 472.5 892.7 482.5 897.4 490.5 902.8 500.5 907.8 510.5 912.4 520.5 916.6 530.5 920.5 540.5 924 550.5 927.9 562.5 930.8 572.5 934 584.5 936.8 596.5 939.4 608.5 943.7 632.5 945.8 646.5 947.7 660.5 951 690.5 953.7 722.5 956 758.5 958.4 806.5 959.4 806.5 957 758.5 954.7 722.5 952 690.5 948.7 660.5 946.8 646.5 944.7 632.5 940.4 608.5 937.8 596.5 935 584.5 931.8 572.5 928.9 562.5 925 550.5 921.5 540.5 917.6 530.5 913.4 520.5 908.8 510.5 903.8 500.5 898.4 490.5 893.7 482.5 887.4 472.5 881.9 464.5 876.1 456.5 870 448.5 861.8 438.5 854.8 430.5 847.4 422.5 839.6 414.5Z"/>
<path d="M507 62.5 520.6 78.5 534.9 94.5 549.9 110.5 563.6 124.5 564.6 124.5 550.9 110.5 535.9 94.5 521.6 78.5 508 62.5ZM564.1 124 582.6 142 602.1 160 622.4 178 646.1 198 668.4 216 694 236 717.7 254 779.2 300 807.7 322 824.9 336 839 348 852.3 360 864.8 372 864.8 373 852.3 361 839 349 824.9 337 807.7 323 779.2 301 717.7 255 694 237 668.4 217 646.1 199 622.4 179 602.1 161 582.6 143 564.1 125ZM864.3 372.5 874.1 382.5 881.4 390.5 888.4 398.5 896.5 408.5 902.6 416.5 909.6 426.5 914.9 434.5 921 444.5 926.6 454.5 931.7 464.5 936.4 474.5 940.7 484.5 944.6 494.5 948.8 506.5 952.5 518.5 955.9 530.5 958.8 542.5 961.5 554.5 963.8 566.5 965.8 578.5 967.9 592.5 969.7 606.5 971.2 620.5 972.7 636.5 974.8 668.5 976.4 704.5 977.5 744.5 978.6 806.5 979.6 806.5 978.5 744.5 977.4 704.5 975.8 668.5 973.7 636.5 972.2 620.5 970.7 606.5 968.9 592.5 966.8 578.5 964.8 566.5 962.5 554.5 959.8 542.5 956.9 530.5 953.5 518.5 949.8 506.5 945.6 494.5 941.7 484.5 937.4 474.5 932.7 464.5 927.6 454.5 922 444.5 915.9 434.5 910.6 426.5 903.6 416.5 897.5 408.5 889.4 398.5 882.4 390.5 875.1 382.5 865.3 372.5Z"/>
<path d="M572.8 62.5 587.7 78.5 603.4 94.5 604.4 94.5 588.7 78.5 573.8 62.5ZM603.9 94 622.3 112 639.5 128 659.8 146 680.9 164 702.9 182 728.3 202 751.7 220 809.8 264 837.9 286 852.6 298 866.6 310 879.8 322 892.2 334 892.2 335 879.8 323 866.6 311 852.6 299 837.9 287 809.8 265 751.7 221 728.3 203 702.9 183 680.9 165 659.8 147 639.5 129 622.3 113 603.9 95ZM891.7 334.5 901.4 344.5 908.7 352.5 917.3 362.5 925.2 372.5 931.1 380.5 937.9 390.5 944.2 400.5 950 410.5 955.2 420.5 960 430.5 964.4 440.5 969.1 452.5 973.2 464.5 976.9 476.5 980.1 488.5 983 500.5 985.5 512.5 987.9 526.5 989.8 538.5 991.6 552.5 993.1 566.5 994.3 580.5 995.4 596.5 996.2 612.5 997.3 644.5 997.7 682.5 997.5 722.5 996.6 806.5 997.6 806.5 998.5 722.5 998.7 682.5 998.3 644.5 997.2 612.5 996.4 596.5 995.3 580.5 994.1 566.5 992.6 552.5 990.8 538.5 988.9 526.5 986.5 512.5 984 500.5 981.1 488.5 977.9 476.5 974.2 464.5 970.1 452.5 965.4 440.5 961 430.5 956.2 420.5 951 410.5 945.2 400.5 938.9 390.5 932.1 380.5 926.2 372.5 918.3 362.5 909.7 352.5 902.4 344.5 892.7 334.5Z"/>
<path d="M638.6 62.5 642.6 66.5 643.6 66.5 639.6 62.5ZM643.1 66 659.5 82 678.8 100 696.8 116 717.8 134 739.7 152 762.4 170 837.8 228 865.6 250 880.2 262 894.1 274 907.2 286 917.5 296 917.5 297 907.2 287 894.1 275 880.2 263 865.6 251 837.8 229 762.4 171 739.7 153 717.8 135 696.8 117 678.8 101 659.5 83 643.1 67ZM917 296.5 926.7 306.5 935.8 316.5 944.3 326.5 952.1 336.5 959.3 346.5 965.9 356.5 971.9 366.5 977.4 376.5 982.4 386.5 987.8 398.5 991.8 408.5 996.1 420.5 999.9 432.5 1003.1 444.5 1006 456.5 1008.8 470.5 1010.9 482.5 1012.9 496.5 1014.6 510.5 1015.9 524.5 1016.9 538.5 1017.7 554.5 1018.3 570.5 1018.6 588.5 1018.6 620.5 1017.9 658.5 1012.7 806.5 1013.7 806.5 1018.9 658.5 1019.6 620.5 1019.6 588.5 1019.3 570.5 1018.7 554.5 1017.9 538.5 1016.9 524.5 1015.6 510.5 1013.9 496.5 1011.9 482.5 1009.8 470.5 1007 456.5 1004.1 444.5 1000.9 432.5 997.1 420.5 992.8 408.5 988.8 398.5 983.4 386.5 978.4 376.5 972.9 366.5 966.9 356.5 960.3 346.5 953.1 336.5 945.3 326.5 936.8 316.5 927.7 306.5 918 296.5Z"/>
<path d="M704.8 62 720 76 735.9 90 752.2 104 771.5 120 804 146 873.5 200 900.7 222 912.5 232 923.8 242 934.6 252 942.8 260 942.8 261 934.6 253 923.8 243 912.5 233 900.7 223 873.5 201 804 147 771.5 121 752.2 105 735.9 91 720 77 704.8 63ZM942.3 260.5 952 270.5 961.1 280.5 969.5 290.5 977.3 300.5 984.5 310.5 991.1 320.5 997 330.5 1003.5 342.5 1008.3 352.5 1013.5 364.5 1018 376.5 1022 388.5 1025.4 400.5 1028.8 414.5 1031.3 426.5 1033.7 440.5 1035.4 452.5 1037 466.5 1038.2 480.5 1039.3 496.5 1039.9 512.5 1040.3 528.5 1040.3 544.5 1040.1 562.5 1039.2 594.5 1037.6 630.5 1035.5 666.5 1029.9 756.5 1027.3 806.5 1028.3 806.5 1030.9 756.5 1036.5 666.5 1038.6 630.5 1040.2 594.5 1041.1 562.5 1041.3 544.5 1041.3 528.5 1040.9 512.5 1040.3 496.5 1039.2 480.5 1038 466.5 1036.4 452.5 1034.7 440.5 1032.3 426.5 1029.8 414.5 1026.4 400.5 1023 388.5 1019 376.5 1014.5 364.5 1009.3 352.5 1004.5 342.5 998 330.5 992.1 320.5 985.5 310.5 978.3 300.5 970.5 290.5 962.1 280.5 953 270.5 943.3 260.5Z"/>
<path d="M770.3 62 793.7 82 818.1 102 843.2 122 896.8 164 921.5 184 935.7 196 947.1 206 957.9 216 968.2 226 968.2 227 957.9 217 947.1 207 935.7 197 921.5 185 896.8 165 843.2 123 818.1 103 793.7 83 770.3 63ZM967.7 226.5 979.3 238.5 988.2 248.5 996.4 258.5 1004 268.5 1011 278.5 1017.4 288.5 1023.1 298.5 1029.4 310.5 1034.8 322.5 1039.6 334.5 1043.8 346.5 1047.4 358.5 1050.5 370.5 1053.5 384.5 1056 398.5 1057.9 412.5 1059.3 424.5 1060.5 438.5 1061.3 452.5 1061.9 468.5 1062.1 484.5 1062 500.5 1061.6 518.5 1060.9 536.5 1059.3 566.5 1057.1 598.5 1054.2 634.5 1045.3 740.5 1042.7 774.5 1040.6 806.5 1041.6 806.5 1043.7 774.5 1046.3 740.5 1055.2 634.5 1058.1 598.5 1060.3 566.5 1061.9 536.5 1062.6 518.5 1063 500.5 1063.1 484.5 1062.9 468.5 1062.3 452.5 1061.5 438.5 1060.3 424.5 1058.9 412.5 1057 398.5 1054.5 384.5 1051.5 370.5 1048.4 358.5 1044.8 346.5 1040.6 334.5 1035.8 322.5 1030.4 310.5 1024.1 298.5 1018.4 288.5 1012 278.5 1005 268.5 997.4 258.5 989.2 248.5 980.3 238.5 968.7 226.5Z"/>
<path d="M835.5 62 862.5 84 920.4 130 945.1 150 959.3 162 970.7 172 981.5 182 991.8 192 991.8 193 981.5 183 970.7 173 959.3 163 945.1 151 920.4 131 862.5 85 835.5 63ZM991.3 192.5 1002.9 204.5 1011.9 214.5 1020.2 224.5 1027.8 234.5 1034.8 244.5 1042.4 256.5 1048 266.5 1054.1 278.5 1059.3 290.5 1064 302.5 1067.9 314.5 1071.3 326.5 1074.2 338.5 1077 352.5 1079.2 366.5 1081.1 382.5 1082.2 394.5 1083.1 408.5 1083.6 422.5 1083.8 438.5 1083.7 454.5 1083.2 472.5 1082.4 490.5 1081.3 508.5 1079.2 536.5 1076.5 566.5 1072.8 602.5 1063.8 686.5 1059.7 726.5 1055.8 768.5 1052.7 806.5 1053.7 806.5 1056.8 768.5 1060.7 726.5 1064.8 686.5 1073.8 602.5 1077.5 566.5 1080.2 536.5 1082.3 508.5 1083.4 490.5 1084.2 472.5 1084.7 454.5 1084.8 438.5 1084.6 422.5 1084.1 408.5 1083.2 394.5 1082.1 382.5 1080.2 366.5 1078 352.5 1075.2 338.5 1072.3 326.5 1068.9 314.5 1065 302.5 1060.3 290.5 1055.1 278.5 1049 266.5 1043.4 256.5 1035.8 244.5 1028.8 234.5 1021.2 224.5 1012.9 214.5 1003.9 204.5 992.3 192.5Z"/>
<path d="M899.7 62 949.7 102 973.9 122 985.6 132 996.9 142 1007.6 152 1015.8 160 1015.8 161 1007.6 153 996.9 143 985.6 133 973.9 123 949.7 103 899.7 63ZM1015.3 160.5 1026.9 172.5 1035.8 182.5 1044.1 192.5 1053.1 204.5 1060 214.5 1067.3 226.5 1072.8 236.5 1078.6 248.5 1083.7 260.5 1088.1 272.5 1091.8 284.5 1095.5 298.5 1098.1 310.5 1100.5 324.5 1102.4 338.5 1103.9 354.5 1104.7 366.5 1105.2 380.5 1105.4 394.5 1105.3 410.5 1104.8 426.5 1103.9 444.5 1102.7 462.5 1101.2 480.5 1098.1 512.5 1094 548.5 1078.3 672.5 1072.6 720.5 1067.8 764.5 1063.9 806.5 1064.9 806.5 1068.8 764.5 1073.6 720.5 1079.3 672.5 1095 548.5 1099.1 512.5 1102.2 480.5 1103.7 462.5 1104.9 444.5 1105.8 426.5 1106.3 410.5 1106.4 394.5 1106.2 380.5 1105.7 366.5 1104.9 354.5 1103.4 338.5 1101.5 324.5 1099.1 310.5 1096.5 298.5 1092.8 284.5 1089.1 272.5 1084.7 260.5 1079.6 248.5 1073.8 236.5 1068.3 226.5 1061 214.5 1054.1 204.5 1045.1 192.5 1036.8 182.5 1027.9 172.5 1016.3 160.5Z"/>
<path d="M962.2 62 989.1 84 1007.9 100 1025.7 116 1040.2 130 1040.2 131 1025.7 117 1007.9 101 989.1 85 962.2 63ZM1039.7 130.5 1051.2 142.5 1060 152.5 1068.2 162.5 1077.2 174.5 1083.9 184.5 1091.1 196.5 1096.5 206.5 1102.2 218.5 1107.1 230.5 1111.3 242.5 1114.9 254.5 1118.4 268.5 1121.1 282.5 1123.2 296.5 1125 312.5 1126.1 328.5 1126.6 340.5 1126.8 354.5 1126.7 368.5 1126.2 384.5 1125.4 400.5 1124.1 418.5 1122.5 436.5 1120.6 454.5 1117.1 484.5 1112.3 520.5 1093.4 650.5 1085.9 704.5 1082.3 732.5 1079.3 758.5 1076.7 782.5 1074.3 806.5 1075.3 806.5 1077.7 782.5 1080.3 758.5 1083.3 732.5 1086.9 704.5 1094.4 650.5 1113.3 520.5 1118.1 484.5 1121.6 454.5 1123.5 436.5 1125.1 418.5 1126.4 400.5 1127.2 384.5 1127.7 368.5 1127.8 354.5 1127.6 340.5 1127.1 328.5 1126 312.5 1124.2 296.5 1122.1 282.5 1119.4 268.5 1115.9 254.5 1112.3 242.5 1108.1 230.5 1103.2 218.5 1097.5 206.5 1092.1 196.5 1084.9 184.5 1078.2 174.5 1069.2 162.5 1061 152.5 1052.2 142.5 1040.7 130.5Z"/>
<path d="M1021.6 62 1042.1 80 1052.8 90 1061.1 98 1061.1 99 1052.8 91 1042.1 81 1021.6 63ZM1060.6 98.5 1072.2 110.5 1081.2 120.5 1091.1 132.5 1098.6 142.5 1105.4 152.5 1112.8 164.5 1119.2 176.5 1124.8 188.5 1129.7 200.5 1134.4 214.5 1137.8 226.5 1141 240.5 1143.5 254.5 1145.4 268.5 1146.8 284.5 1147.7 300.5 1148 314.5 1147.9 328.5 1147.5 342.5 1146.6 358.5 1145.5 374.5 1144 390.5 1142.1 408.5 1140 426.5 1135.6 458.5 1130.2 494.5 1107.8 630.5 1098.5 690.5 1094.3 720.5 1090.3 750.5 1086.9 778.5 1083.9 806.5 1084.9 806.5 1087.9 778.5 1091.3 750.5 1095.3 720.5 1099.5 690.5 1108.8 630.5 1131.2 494.5 1136.6 458.5 1141 426.5 1143.1 408.5 1145 390.5 1146.5 374.5 1147.6 358.5 1148.5 342.5 1148.9 328.5 1149 314.5 1148.7 300.5 1147.8 284.5 1146.4 268.5 1144.5 254.5 1142 240.5 1138.8 226.5 1135.4 214.5 1130.7 200.5 1125.8 188.5 1120.2 176.5 1113.8 164.5 1106.4 152.5 1099.6 142.5 1092.1 132.5 1082.2 120.5 1073.2 110.5 1061.6 98.5Z"/>
<path d="M1076.4 62 1084.5 70 1084.5 71 1076.4 63ZM1084 70.5 1095.6 82.5 1106.2 94.5 1114.3 104.5 1123.1 116.5 1129.7 126.5 1136.8 138.5 1143 150.5 1148.3 162.5 1152.9 174.5 1157.3 188.5 1160.4 200.5 1163.3 214.5 1165.5 228.5 1167.3 244.5 1168.4 260.5 1168.8 276.5 1168.8 288.5 1168.5 302.5 1167.8 316.5 1166.7 332.5 1165.2 348.5 1163.5 364.5 1161.3 382.5 1158.8 400.5 1154.2 430.5 1148.2 466.5 1141.8 502.5 1122 610.5 1116.1 644.5 1110.7 676.5 1105.4 710.5 1100.5 744.5 1096.3 776.5 1092.9 806.5 1093.9 806.5 1097.3 776.5 1101.5 744.5 1106.4 710.5 1111.7 676.5 1117.1 644.5 1123 610.5 1142.8 502.5 1149.2 466.5 1155.2 430.5 1159.8 400.5 1162.3 382.5 1164.5 364.5 1166.2 348.5 1167.7 332.5 1168.8 316.5 1169.5 302.5 1169.8 288.5 1169.8 276.5 1169.4 260.5 1168.3 244.5 1166.5 228.5 1164.3 214.5 1161.4 200.5 1158.3 188.5 1153.9 174.5 1149.3 162.5 1144 150.5 1137.8 138.5 1130.7 126.5 1124.1 116.5 1115.3 104.5 1107.2 94.5 1096.6 82.5 1085 70.5Z"/>
</g>
<g class="thin" stroke="#000">
<path d="M160 92.5 H1086.5" stroke-dasharray="2 3"/>
<path d="M160 133.5 H1086.5" stroke-dasharray="2 3"/>
<path d="M160 169.5 H1086.5" stroke-dasharray="2 3"/>
<path d="M160 199.5 H1086.5" stroke-dasharray="2 3"/>
<path d="M160 226.5 H1086.5" stroke-dasharray="2 3"/>
<path d="M160 251.5 H1086.5" stroke-dasharray="2 3"/>
<path d="M160 410.5 H1086.5" stroke-dasharray="2 3"/>
<path d="M160 503.5 H1086.5" stroke-dasharray="2 3"/>
<path d="M160 569.5 H1086.5" stroke-dasharray="2 3"/>
<path d="M160 620.5 H1086.5" stroke-dasharray="2 3"/>
<path d="M160 662.5 H1086.5" stroke-dasharray="2 3"/>
<path d="M160 697.5 H1086.5" stroke-dasharray="1 4"/>
<path d="M160 727.5 H1086.5" stroke-dasharray="1 4"/>
<path d="M160 754.5 H1086.5" stroke-dasharray="1 4"/>
<path d="M160 779.5 H1086.5" stroke-dasharray="1 4"/>
</g>
<path d="M975 63 L960 69.5 L930 82.5 L905 93.8 L885 102.5 L865 111.2 L842.5 121.2 L820 132.5 L800 142.5 L780 152 L762.5 160 L740 170.5 L725 180 L712.5 188.7 L700 196.9 L686.7 206 L672 215 L660 223.3 L650 230 L627.5 245.5 L605 262.5 L585 278.8 L571.2 292 L557.5 307.5 L545 325 L533.8 341.2 L528.8 352.5 L526.2 365 L525 380 L526.2 395 L530 410 L538.8 425 L552.5 441.2 L570 458.8 L590 476.2 L612.5 493.8 L635 510 L660 527.5 L685 545 L710 562.5 L735 580 L760 597.5 L773.3 610 L785.6 621.1 L794.4 631.1 L800 640 L803.8 647.8 L804.4 657.8 L805.6 668.9 L808.9 682.2 L812.2 695.6 L815.6 711.1 L818.9 726.7 L821.8 735.6 L824.6 742.5 L825.6 745 L824 746.5 L824 763.3 L828.9 770 L834.4 776 L842.2 778.9 L850.4 781.6" fill="none" stroke="#000" stroke-width="4" stroke-linejoin="round" shape-rendering="crispEdges"/>
<path d="M652.5 72 L651.2 72.9 L649.9 73.9 L648.6 74.8 L647.3 75.7 L645.9 76.7 L644.6 77.6 L643.3 78.5 L643 78.8M638.2 82.2 L636.9 83.1 L635.6 84 L634.3 85 L633 85.9 L631.7 86.8 L630.4 87.8 L629.1 88.8 L628.8 89M624 92.6 L622.7 93.6 L621.5 94.5 L620.2 95.5 L618.9 96.4 L617.6 97.4 L616.3 98.4 L615.1 99.3 L614.6 99.7M609.8 103.4 L608.6 104.4 L607.3 105.4 L606.1 106.5 L604.8 107.5 L603.6 108.5 L602.3 109.5 L601.1 110.5 L600.3 111.2M595.6 115 L594.4 116 L593.1 117 L591.9 118 L590.7 119.1 L589.5 120.1 L588.2 121.2 L587 122.2 L586.1 123M581.4 127 L580.2 128.1 L579 129.1 L577.7 130.2 L576.5 131.2 L575.3 132.2 L574.1 133.3 L572.8 134.3 L572 134.9M567.2 138.8 L565.9 139.9 L564.7 140.9 L563.4 141.9 L562.2 142.9 L560.9 143.9 L559.7 144.9 L558.4 146 L557.8 146.5M553 150.4 L551.7 151.4 L550.5 152.4 L549.2 153.4 L548 154.5 L546.7 155.5 L545.5 156.5 L544.2 157.5 L543.6 158M538.8 162 L537.5 163 L536.2 164 L535 165 L533.8 166 L532.6 167.1 L531.3 168.1 L530.1 169.2 L529.4 169.8M524.7 173.9 L523.4 174.9 L522.2 176 L521 177 L519.8 178 L518.6 179.1 L517.3 180.1 L516.1 181.2 L515.2 182M510.3 186.1 L509.1 187.2 L507.9 188.2 L506.7 189.3 L505.5 190.3 L504.3 191.3 L503 192.4 L501.8 193.4 L500.9 194.2M496.7 198.8 L495.7 200 L494.7 201.2 L493.6 202.5 L492.6 203.7 L491.5 204.9 L490.5 206.1 L489.4 207.3 L488.7 208.2M484.6 213 L483.6 214.2 L482.6 215.4 L481.5 216.7 L480.5 217.9 L479.5 219.1 L478.4 220.4 L477.4 221.6 L476.8 222.4M472.8 227.2 L471.8 228.5 L470.9 229.8 L469.9 231.1 L469 232.4 L468.1 233.7 L467.1 235 L466.2 236.3 L466 236.7M462.6 241.4 L461.6 242.7 L460.7 244 L459.7 245.3 L458.7 246.5 L457.7 247.8 L456.6 249 L455.6 250.3 L455.1 250.9M451.2 255.5 L450.2 256.8 L449.2 258 L448.1 259.2 L447.1 260.5 L446 261.7 L445 262.9 L443.9 264.1 L443.1 265M438.9 269.8 L438.2 271.3 L437.6 272.8 L437 274.3 L436.4 275.8 L435.8 277.3 L435.2 278.8 L435.1 279.1M433.4 284.1 L433.1 285.7 L432.8 287.2 L432.5 288.8 L432.2 290.4 L431.9 292 L431.6 293.4M430.9 298.3 L431.1 299.9 L431.3 301.5 L431.5 303.1 L431.8 304.6 L432 306.2 L432.2 307.6M433.1 312.3 L433.5 313.9 L433.9 315.5 L434.3 317 L434.6 318.6 L435 320.1 L435.4 321.7 L435.5 321.9M436.6 326.6 L437 328.1 L437.4 329.7 L437.8 331.2 L438.2 332.8 L438.6 334.4 L439 335.9M440.1 340.8 L440.3 342.4 L440.5 344 L440.7 345.6 L441 347.2 L441.2 348.8 L441.4 350.2M442 355 L442.2 356.6 L442.4 358.2 L442.6 359.8 L442.7 361.4 L442.9 363 L443.1 364.4M443.7 369.2 L444 370.8 L444.4 372.3 L444.9 373.8 L445.4 375.4 L445.8 376.9 L446.3 378.5 L446.3 378.7M447.8 383.5 L448.2 385 L448.7 386.5 L449.2 388.1 L449.6 389.6 L450.1 391.2 L450.6 392.7 L450.6 392.9M451.8 397.6 L452.1 399.2 L452.4 400.8 L452.7 402.3 L453 403.9 L453.4 405.5 L453.6 406.9M456.4 411.8 L457.3 413.2 L458.2 414.6 L459 415.9 L459.9 417.3 L461.1 418.4 L462.3 419.4 L463.6 420.4 L463.8 420.5M468.4 424.2 L469.7 425.2 L470.9 426.2 L472.2 427.2 L473.5 428.2 L474.8 429.1 L476.2 429.9 L477.5 430.8 L478 431.2M482.7 434.3 L484 435.2 L485.3 436.1 L486.7 436.9 L488 437.8 L489.4 438.6 L490.8 439.4 L492 440.1M497 442.9 L498.4 443.7 L499.8 444.5 L501.2 445.3 L502.6 446.1 L504 446.9 L505.3 447.7 L506.4 448.4M511.2 451.3 L512.5 452.2 L513.9 453.1 L515.3 453.9 L516.6 454.8 L518 455.6 L519.4 456.5 L520.6 457.2M525.3 460.2 L526.6 461.2 L527.9 462.2 L529.2 463.1 L530.5 464.1 L531.8 465.1 L533.1 466 L534.4 467 L534.7 467.3M539.5 470.9 L540.8 471.9 L542 472.9 L543.3 473.9 L544.6 474.8 L545.8 475.8 L547.1 476.8 L548.4 477.8 L549 478.3M553.7 482 L555 483 L556.2 484 L557.5 485 L558.6 486.2 L559.6 487.4 L560.7 488.6 L561.8 489.8 L562.6 490.7M566.9 495.4 L567.9 496.6 L569 497.8 L569.8 499.2 L570.6 500.6 L571.5 502 L572.3 503.4 L573.1 504.8M576 509.7 L576.6 511.2 L577.1 512.7 L577.5 514.2 L578 515.8 L578.4 517.3 L578.9 518.8 L579 519M579.5 523.8 L578.9 525.3 L578.3 526.8 L577.7 528.3 L577.1 529.8 L576.5 531.3 L575.9 532.8 L575.7 533.1M572 538 L570.9 539.1 L569.7 540.3 L568.6 541.4 L567.5 542.5 L566.3 543.7 L565.2 544.8 L564 546 L562.7 546.9 L562.6 547M557.9 550.1 L556.5 551 L555.2 551.9 L553.9 552.8 L552.5 553.7 L551.2 554.6 L549.8 555.4 L548.5 556.3 L548.3 556.4M543.6 558.6 L542.1 559.2 L540.6 559.8 L539.1 560.4 L537.6 561.1 L536.2 561.7 L534.7 562.3 L534.1 562.5M529.5 564.4 L528 565 L526.5 565.6 L525 566.2 L523.5 566.8 L522 567.4 L520.5 568 L520 568.3M515.3 570.1 L513.8 570.7 L512.3 571.3 L510.8 571.9 L509.3 572.5 L507.8 573.1 L506.3 573.7 L505.8 573.9M500.9 575.9 L499.4 576.5 L497.9 577 L496.4 577.6 L494.9 578.2 L493.4 578.7 L491.9 579.3 L491.5 579.4M486.8 581.1 L485.3 581.7 L483.8 582.2 L482.2 582.7 L480.7 583.2 L479.2 583.8 L477.7 584.3 L477.3 584.4M472.6 586.1 L471.1 586.6 L469.5 587.2 L468 587.7 L466.5 588.2 L465 588.8 L463.5 589.4 L463.2 589.6M458.5 591.8 L457 592.5 L455.6 593.2 L454.1 593.9 L452.6 594.6 L451.2 595.2 L449.7 595.9 L449 596.3M444.3 598.5 L443.8 599.8 L443.8 601.4 L443.8 603 L443.8 604.6 L443.8 606.2 L442.6 607.4 L442.3 607.7M437.6 612.4 L436.4 613.6 L435.3 614.7 L434 615.7 L432.7 616.6 L431.4 617.5 L430.1 618.5 L428.8 619.4 L428.1 619.8M423.3 623.2 L422.1 624.2 L421.2 625.5 L420.2 626.8 L419.2 628.1 L418.3 629.4 L417.3 630.7 L416.3 632 L416.1 632.3M417.2 637.1 L418.1 638.5 L419 639.8 L419.9 641.1 L420.8 642.5 L421.7 643.8 L422.7 645.1 L424 646 L424.1 646.2M428.9 649.5 L430.2 650.4 L431.5 651.3 L432.9 652.3 L434.2 653.2 L435.6 654 L437 654.6 L438.3 655.2M443.1 657.3 L444.5 657.9 L446 658.6 L447.5 659.2 L448.9 659.9 L450.4 660.5 L451.9 661.1 L452.4 661.4M457.2 663.6 L458.6 664.3 L460 665 L461.5 665.7 L462.9 666.5 L464.4 667.2 L465.8 667.9 L466.7 668.4M471.4 670.7 L472.8 671.4 L474.3 672.1 L475.7 672.8 L477.1 673.6 L478.6 674.2 L480.1 674.8 L480.9 675.1M485.7 677 L487.2 677.6 L488.7 678.2 L490.2 678.8 L491.7 679.4 L493.2 680 L494.7 680.6 L495 680.8M499.9 682.7 L501.4 683.3 L502.9 683.9 L504.4 684.4 L505.9 684.8 L507.5 685.3 L509 685.8 L509.2 685.9M514 687.4 L515.5 687.9 L517 688.4 L518.5 688.9 L520.1 689.3 L521.6 689.8 L523.1 690.3 L523.5 690.4M528.3 692 L529.8 692.4 L531.3 693 L532.8 693.5 L534.4 694 L535.9 694.6 L537.4 695.1 L537.6 695.2M542.5 696.9 L544 697.4 L545.5 697.9 L547 698.5 L548.6 699 L550.1 699.5 L551.6 700.1 L551.8 700.1M556.7 701.9 L558.2 702.5 L559.7 703.1 L561.2 703.7 L562.6 704.3 L564.1 704.9 L565.6 705.5 L566 705.7M570.9 707.6 L572.4 708.2 L573.8 708.8 L575.3 709.4 L576.8 710 L578.3 710.6 L579.8 711.2 L580.2 711.3M585 713.3 L586.5 713.9 L588 714.5 L589.5 715.1 L591 715.7 L592.5 716.2 L594 716.8 L594.4 717M599.2 718.9 L600.7 719.5 L602.2 720.1 L603.7 720.7 L605.2 721.3 L606.7 721.8 L608.2 722.4 L608.6 722.5M613.5 724.2 L615 724.8 L616.6 725.3 L618.1 725.8 L619.6 726.4 L621.1 726.9 L622.6 727.4 L622.8 727.5M627.7 729.2 L629.2 729.7 L630.8 730.2 L632.3 730.7 L633.8 731.2 L635.4 731.6 L636.9 732.1 L637.1 732.1M641.9 733.6 L643.5 734 L645 734.5 L646.5 735 L648.1 735.4 L649.6 735.9 L651.1 736.4 L651.3 736.5M656 738.3 L657.5 738.9 L659 739.5 L660.5 740.1 L662 740.7 L663.5 741.3 L665 741.8 L665.5 742.1M670.2 743.9 L671.7 744.5 L673.2 745.1 L674.7 745.7 L676.2 746.2 L677.7 746.8 L679.2 747.4 L679.7 747.6M684.4 749.5 L685.9 750.1 L687.4 750.7 L688.8 751.3 L690.3 752 L691.7 752.7 L693.2 753.4 L693.9 753.7M698.6 755.9 L700.1 756.6 L701.5 757.3 L703 757.9 L704.5 758.6 L705.9 759.3 L707.4 760 L708.1 760.3M712.9 762.5 L714.4 763.2 L715.8 763.9 L717.4 764.4 L719 764.8 L720.6 765.2 L722.2 765.6 L722.3 765.7M726.9 769.1 L728 770.3 L729.1 771.5 L730.2 772.7 L731.2 773.9 L732.3 775.1 L733.4 776.3 L734.6 777.4 L735.4 778M738.4 779.9 L740.6 782.1" fill="none" stroke="#000" stroke-width="4" shape-rendering="crispEdges"/>
</g>
<g filter="url(#t)">
<text x="222.00" y="51.7" font-size="26px" stroke="#000" stroke-width="0.35" textLength="161.82" lengthAdjust="spacingAndGlyphs">Scanning-HIS</text>
<text x="391.20" y="51.7" font-size="26px" stroke="#000" stroke-width="0.35" textLength="77.26" lengthAdjust="spacingAndGlyphs">RT-DR</text>
<text x="475.70" y="51.7" font-size="26px" stroke="#000" stroke-width="0.35" textLength="61.83" lengthAdjust="spacingAndGlyphs">Mean</text>
<text x="545.70" y="51.7" font-size="26px" stroke="#000" stroke-width="0.35" textLength="100.29" lengthAdjust="spacingAndGlyphs">Retrieval</text>
<text x="654.00" y="51.7" font-size="26px" stroke="#000" stroke-width="0.35">:</text>
<text x="667.45" y="51.7" font-size="26px" stroke="#000" stroke-width="0.35" textLength="138.08" lengthAdjust="spacingAndGlyphs">22-Sep-2012</text>
<text x="813.30" y="51.7" font-size="26px" stroke="#000" stroke-width="0.35" textLength="93.90" lengthAdjust="spacingAndGlyphs">22:34:09</text>
<text x="916.60" y="51.7" font-size="26px" stroke="#000" stroke-width="0.35" textLength="9.65" lengthAdjust="spacingAndGlyphs">-</text>
<text x="929.60" y="51.7" font-size="26px" stroke="#000" stroke-width="0.35" textLength="89.20" lengthAdjust="spacingAndGlyphs">22:35:00</text>
<text class="b" x="149.8" y="100.8" text-anchor="end">50</text>
<text class="b" x="149.8" y="141.8" text-anchor="end">60</text>
<text class="b" x="149.8" y="177.8" text-anchor="end">70</text>
<text class="b" x="149.8" y="207.8" text-anchor="end">80</text>
<text class="b" x="149.8" y="234.8" text-anchor="end">90</text>
<text class="b" x="149.8" y="259.8" text-anchor="end">100</text>
<text class="b" x="149.8" y="418.8" text-anchor="end">200</text>
<text class="b" x="149.8" y="511.8" text-anchor="end">300</text>
<text class="b" x="149.8" y="577.8" text-anchor="end">400</text>
<text class="b" x="149.8" y="628.8" text-anchor="end">500</text>
<text class="b" x="149.8" y="670.8" text-anchor="end">600</text>
<text class="b" x="149.8" y="705.8" text-anchor="end">700</text>
<text class="b" x="149.8" y="735.8" text-anchor="end">800</text>
<text class="b" x="149.8" y="762.8" text-anchor="end">900</text>
<text class="b" x="149.8" y="787.8" text-anchor="end">1000</text>
<text class="b" x="203.5" y="829.8" text-anchor="middle">-40</text>
<text class="b" x="307.5" y="829.8" text-anchor="middle">-30</text>
<text class="b" x="410.5" y="829.8" text-anchor="middle">-20</text>
<text class="b" x="513.5" y="829.8" text-anchor="middle">-10</text>
<text class="b" x="620.5" y="829.8" text-anchor="middle">0</text>
<text class="b" x="723.5" y="829.8" text-anchor="middle">10</text>
<text class="b" x="826.5" y="829.8" text-anchor="middle">20</text>
<text class="b" x="930.5" y="829.8" text-anchor="middle">30</text>
<text class="b" x="1033.5" y="829.8" text-anchor="middle">40</text>
<text class="b" x="546.8" y="855.5" textLength="147.5" lengthAdjust="spacingAndGlyphs">Temperature (C)</text>
<text class="b" transform="translate(95,499.8) rotate(-90)" textLength="129" lengthAdjust="spacingAndGlyphs">Pressure (mb)</text>
<text class="b" x="1105.5" y="716.1">729</text>
<text class="b" x="1105.5" y="723.5">753</text>
<text class="b" x="1105.5" y="758.7">878</text>
<text class="b" x="1105.5" y="765.4">904</text>
<text class="b" x="1105.5" y="772.2">931</text>
<text class="b" x="1105.5" y="778.7">958</text>
</g>
</svg>
</body></html>
